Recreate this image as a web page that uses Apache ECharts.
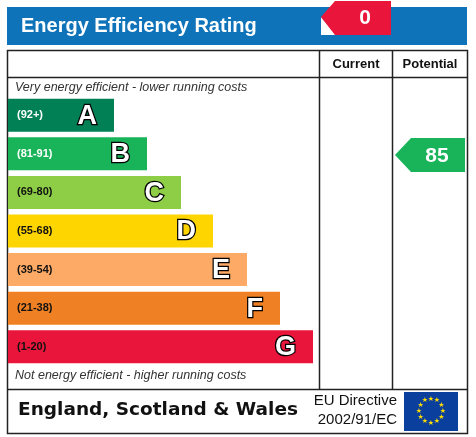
<!DOCTYPE html>
<html><head><meta charset="utf-8">
<script src="https://cdn.jsdelivr.net/npm/echarts@6/dist/echarts.min.js"></script>
<style>html,body{margin:0;padding:0;background:#fff}#c{width:476px;height:437px}</style>
</head><body><div id="c"></div>
<script>
// bands, top to bottom
var bands = ['A', 'B', 'C', 'D', 'E', 'F', 'G'];
var ranges = ['(92+)', '(81-91)', '(69-80)', '(55-68)', '(39-54)', '(21-38)', '(1-20)'];
var barLengths = [106, 139, 173, 205, 239, 272, 305];
var bandColors = ['#008054', '#19b459', '#8dce46', '#ffd500', '#fcaa65', '#ef8023', '#e9153b'];
var rangeColors = ['#fff', '#fff', '#111', '#111', '#111', '#111', '#111'];
var currentScore = 0;
var potentialScore = 85;

var chart = echarts.init(document.getElementById('c'));
var F = 'Liberation Sans, Arial, sans-serif';

var data = barLengths.map(function (v, i) {
    return { value: v, itemStyle: { color: bandColors[i] } };
});

// EU stars
var stars = [];
for (var i = 0; i < 12; i++) {
    var a = i / 12 * Math.PI * 2;
    stars.push({
        type: 'text', x: 431 + 12 * Math.cos(a), y: 411 + 12 * Math.sin(a),
        style: { text: '★', fill: '#ffdd00', font: '7px DejaVu Sans', align: 'center', verticalAlign: 'middle' }
    });
}

var option = {
    animation: false,
    grid: { left: 8, top: 96, width: 305, height: 270 },
    xAxis: { type: 'value', min: 0, max: 305, show: false },
    yAxis: { type: 'category', data: bands, inverse: true, show: false },
    series: [{
        type: 'bar', data: data, barWidth: 33
    }, {
        // range labels on the left
        type: 'bar', barWidth: 33, barGap: '-100%',
        itemStyle: { color: 'transparent' }, silent: true,
        data: barLengths.map(function (v, i) {
            return { value: v, label: { color: rangeColors[i] } };
        }),
        label: {
            show: true, position: 'insideLeft', offset: [4, 0],
            formatter: function (p) { return ranges[p.dataIndex]; },
            fontFamily: F, fontWeight: 'bold', fontSize: 11
        }
    }, {
        // band letters on the right
        type: 'bar', data: barLengths, barWidth: 33, barGap: '-100%',
        itemStyle: { color: 'transparent' }, silent: true,
        label: {
            show: true, position: 'insideRight', offset: [-12, 1],
            formatter: function (p) { return bands[p.dataIndex]; },
            fontFamily: F, fontWeight: 'bold', fontSize: 27, color: '#fff',
            textBorderColor: '#000', textBorderWidth: 2.5
        }
    }],
    graphic: [
        { type: 'rect', shape: { x: 7, y: 7, width: 460, height: 38 }, style: { fill: '#0f73b9' } },
        { type: 'polygon', shape: { points: [[321, 17], [321, 35], [336, 35]] }, style: { fill: '#fff' } },
        { type: 'text', x: 21, y: 26, style: { text: 'Energy Efficiency Rating', fill: '#fff', font: 'bold 20px ' + F, verticalAlign: 'middle' } },
        { type: 'polygon', shape: { points: [[321, 17], [335, 1], [391, 1], [391, 35], [335, 35]] }, style: { fill: '#e9153b' } },
        { type: 'text', x: 365, y: 18, style: { text: String(currentScore), fill: '#fff', font: 'bold 21px ' + F, align: 'center', verticalAlign: 'middle' } },
        { type: 'rect', shape: { x: 7.5, y: 50.5, width: 460, height: 383 }, style: { fill: 'none', stroke: '#222', lineWidth: 1.5 } },
        { type: 'line', shape: { x1: 7.5, y1: 77.5, x2: 467.5, y2: 77.5 }, style: { stroke: '#222', lineWidth: 1.5 } },
        { type: 'line', shape: { x1: 7.5, y1: 389.5, x2: 467.5, y2: 389.5 }, style: { stroke: '#222', lineWidth: 1.5 } },
        { type: 'line', shape: { x1: 319.5, y1: 50.5, x2: 319.5, y2: 389.5 }, style: { stroke: '#222', lineWidth: 1.5 } },
        { type: 'line', shape: { x1: 392.5, y1: 50.5, x2: 392.5, y2: 389.5 }, style: { stroke: '#222', lineWidth: 1.5 } },
        { type: 'text', x: 356, y: 64, style: { text: 'Current', fill: '#111', font: 'bold 13px ' + F, align: 'center', verticalAlign: 'middle' } },
        { type: 'text', x: 430, y: 64, style: { text: 'Potential', fill: '#111', font: 'bold 13px ' + F, align: 'center', verticalAlign: 'middle' } },
        { type: 'text', x: 15, y: 88, style: { text: 'Very energy efficient - lower running costs', fill: '#333', font: 'italic 12.5px ' + F, verticalAlign: 'middle' } },
        { type: 'text', x: 15, y: 376, style: { text: 'Not energy efficient - higher running costs', fill: '#333', font: 'italic 12.5px ' + F, verticalAlign: 'middle' } },
        { type: 'polygon', shape: { points: [[395, 155], [411, 138], [465, 138], [465, 172], [411, 172]] }, style: { fill: '#19b459' } },
        { type: 'text', x: 437, y: 156, style: { text: String(potentialScore), fill: '#fff', font: 'bold 21px ' + F, align: 'center', verticalAlign: 'middle' } },
        { type: 'text', x: 18, y: 410, style: { text: 'England, Scotland & Wales', fill: '#111', font: 'bold 18.5px DejaVu Sans', verticalAlign: 'middle' } },
        { type: 'text', x: 397, y: 401, style: { text: 'EU Directive', fill: '#111', font: '15px ' + F, align: 'right', verticalAlign: 'middle' } },
        { type: 'text', x: 397, y: 420, style: { text: '2002/91/EC', fill: '#111', font: '15px ' + F, align: 'right', verticalAlign: 'middle' } },
        { type: 'rect', shape: { x: 404, y: 392, width: 54, height: 39 }, style: { fill: '#0b3f9e' } }
    ].concat(stars)
};
chart.setOption(option);
</script></body></html>
